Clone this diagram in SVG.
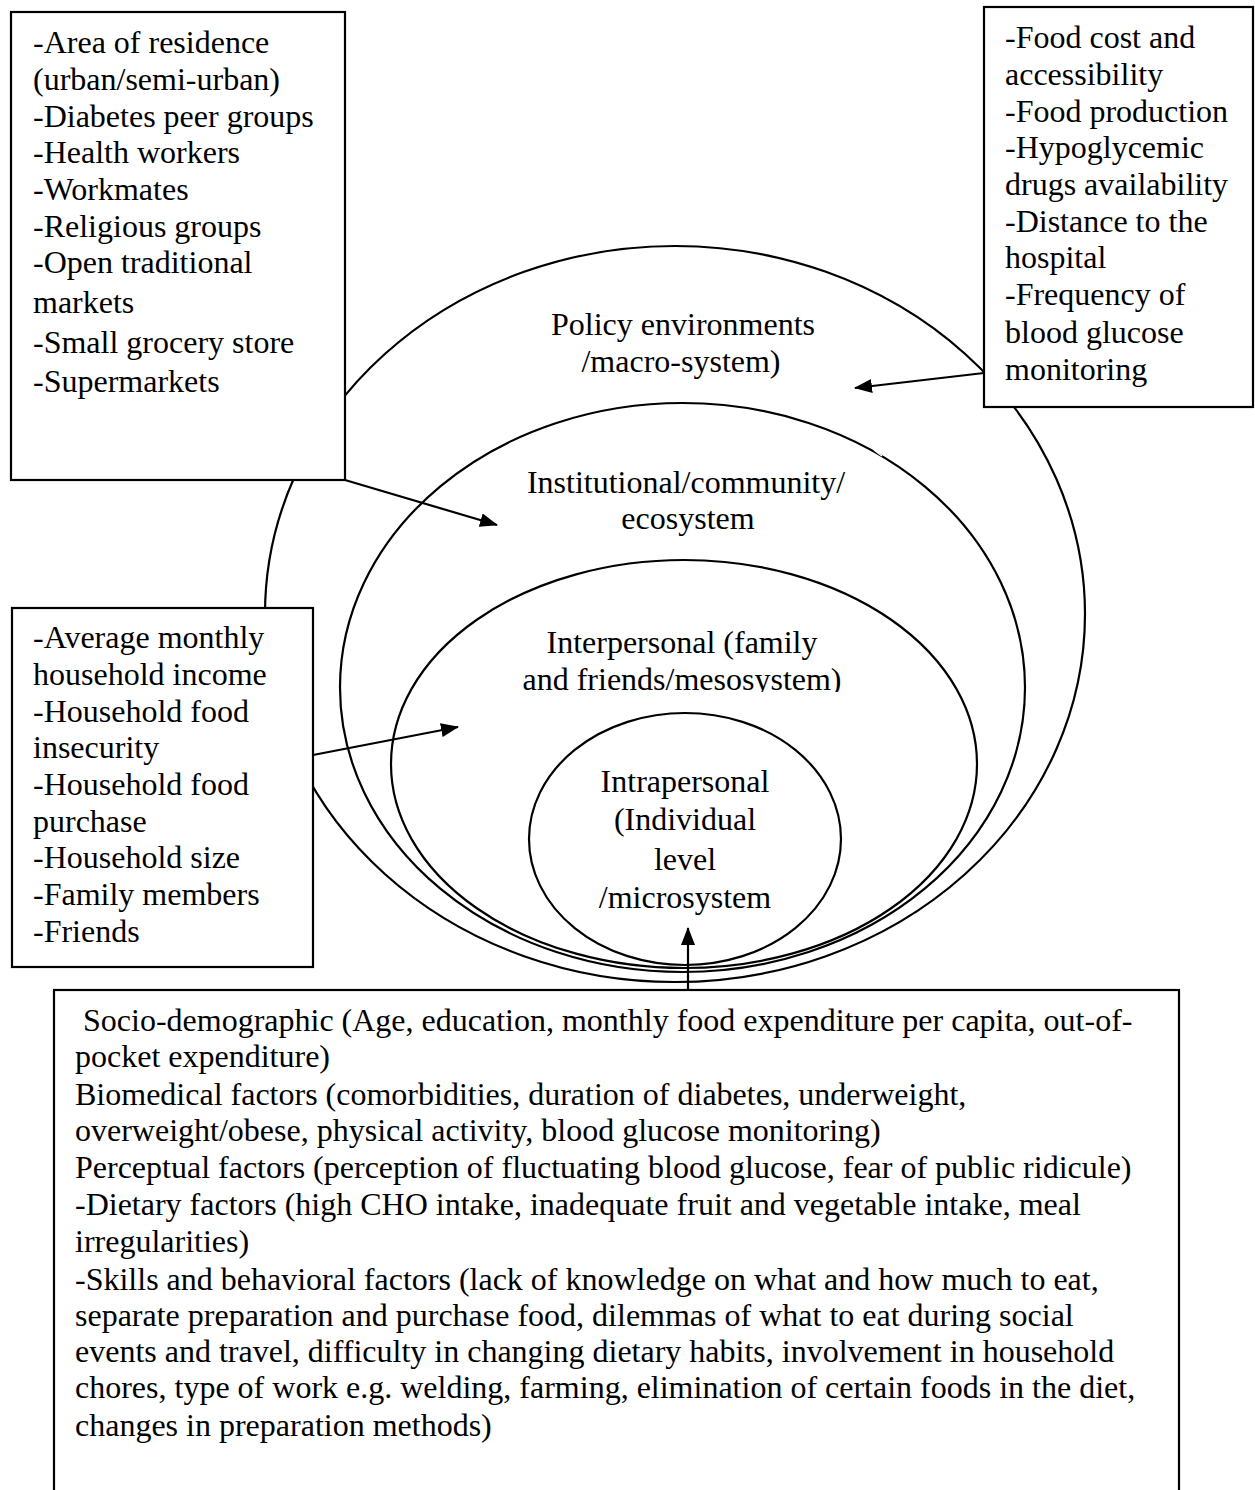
<svg xmlns="http://www.w3.org/2000/svg" width="1255" height="1490" viewBox="0 0 1255 1490">
<style>
  .ring { fill: none; stroke: #000; stroke-width: 2.2; }
  .box { fill: #fff; stroke: #000; stroke-width: 2.2; }
  .t { font-family: "Liberation Serif", "Times New Roman", serif; font-size: 32px; fill: #000; }
  .c { text-anchor: middle; }
  .conn { fill: none; stroke: #000; stroke-width: 2.2; }
</style>
<defs>
  <marker id="ah" markerUnits="userSpaceOnUse" markerWidth="18" markerHeight="14" refX="17" refY="7" orient="auto">
    <path d="M0,0 L18,7 L0,14 z" fill="#000"/>
  </marker>
  <clipPath id="clipInter">
    <rect x="380" y="600" width="620" height="92"/>
  </clipPath>
</defs>
<rect width="1255" height="1490" fill="#fff"/>

<g id="policy">
  <ellipse class="ring" cx="675" cy="614" rx="410" ry="368"/>
  <line x1="879" y1="291" x2="887" y2="297" stroke="#fff" stroke-width="1.5"/>
  <text class="t c" x="683" y="335">Policy environments</text>
  <text class="t c" x="681" y="372">/macro-system)</text>
</g>
<g id="institutional">
  <ellipse class="ring" cx="682.5" cy="687.5" rx="342.5" ry="284.5"/>
  <line x1="874" y1="450" x2="882" y2="456" stroke="#fff" stroke-width="1.5"/>
  <text class="t c" x="686" y="493">Institutional/community/</text>
  <text class="t c" x="688" y="529">ecosystem</text>
</g>
<g id="interpersonal">
  <ellipse class="ring" cx="684" cy="764" rx="293" ry="204"/>
  <g clip-path="url(#clipInter)">
    <text class="t c" x="682" y="653">Interpersonal (family</text>
    <text class="t c" x="682" y="690">and friends/mesosystem)</text>
  </g>
</g>
<g id="intrapersonal">
  <ellipse class="ring" cx="685" cy="839" rx="156" ry="126"/>
  <text class="t c" x="685" y="792">Intrapersonal</text>
  <text class="t c" x="685" y="830">(Individual</text>
  <text class="t c" x="685" y="870">level</text>
  <text class="t c" x="685" y="908">/microsystem</text>
</g>

<g id="connectors">
  <line class="conn" x1="345" y1="480" x2="497" y2="525" marker-end="url(#ah)"/>
  <line class="conn" x1="984" y1="373" x2="855" y2="388" marker-end="url(#ah)"/>
  <line class="conn" x1="313" y1="755" x2="458" y2="727" stroke-width="3.5" marker-end="url(#ah)"/>
  <line class="conn" x1="688" y1="990" x2="688" y2="928" marker-end="url(#ah)"/>
</g>

<g id="box-community">
  <rect class="box" x="11" y="12" width="334" height="468"/>
  <text class="t" x="33" y="53">-Area of residence</text>
  <text class="t" x="33" y="90">(urban/semi-urban)</text>
  <text class="t" x="33" y="127">-Diabetes peer groups</text>
  <text class="t" x="33" y="163">-Health workers</text>
  <text class="t" x="33" y="200">-Workmates</text>
  <text class="t" x="33" y="237">-Religious groups</text>
  <text class="t" x="33" y="273">-Open traditional</text>
  <text class="t" x="33" y="313">markets</text>
  <text class="t" x="33" y="353">-Small grocery store</text>
  <text class="t" x="33" y="392">-Supermarkets</text>
</g>

<g id="box-policy">
  <rect class="box" x="984" y="7" width="269" height="400"/>
  <text class="t" x="1005" y="48">-Food cost and</text>
  <text class="t" x="1005" y="85">accessibility</text>
  <text class="t" x="1005" y="122">-Food production</text>
  <text class="t" x="1005" y="158">-Hypoglycemic</text>
  <text class="t" x="1005" y="195">drugs availability</text>
  <text class="t" x="1005" y="232">-Distance to the</text>
  <text class="t" x="1005" y="268">hospital</text>
  <text class="t" x="1005" y="305">-Frequency of</text>
  <text class="t" x="1005" y="343">blood glucose</text>
  <text class="t" x="1005" y="380">monitoring</text>
</g>

<g id="box-household">
  <rect class="box" x="12" y="608" width="301" height="359"/>
  <text class="t" x="33" y="648">-Average monthly</text>
  <text class="t" x="33" y="685">household income</text>
  <text class="t" x="33" y="722">-Household food</text>
  <text class="t" x="33" y="758">insecurity</text>
  <text class="t" x="33" y="795">-Household food</text>
  <text class="t" x="33" y="832">purchase</text>
  <text class="t" x="33" y="868">-Household size</text>
  <text class="t" x="33" y="905">-Family members</text>
  <text class="t" x="33" y="942">-Friends</text>
</g>

<g id="box-individual">
  <rect class="box" x="54" y="990" width="1125" height="520"/>
  <text class="t" x="75" y="1031" xml:space="preserve"> Socio-demographic (Age, education, monthly food expenditure per capita, out-of-</text>
  <text class="t" x="75" y="1067">pocket expenditure)</text>
  <text class="t" x="75" y="1105">Biomedical factors (comorbidities, duration of diabetes, underweight,</text>
  <text class="t" x="75" y="1141">overweight/obese, physical activity, blood glucose monitoring)</text>
  <text class="t" x="75" y="1178">Perceptual factors (perception of fluctuating blood glucose, fear of public ridicule)</text>
  <text class="t" x="75" y="1215">-Dietary factors (high CHO intake, inadequate fruit and vegetable intake, meal</text>
  <text class="t" x="75" y="1252">irregularities)</text>
  <text class="t" x="75" y="1290">-Skills and behavioral factors (lack of knowledge on what and how much to eat,</text>
  <text class="t" x="75" y="1326">separate preparation and purchase food, dilemmas of what to eat during social</text>
  <text class="t" x="75" y="1362">events and travel, difficulty in changing dietary habits, involvement in household</text>
  <text class="t" x="75" y="1398">chores, type of work e.g. welding, farming, elimination of certain foods in the diet,</text>
  <text class="t" x="75" y="1436">changes in preparation methods)</text>
</g>
</svg>
